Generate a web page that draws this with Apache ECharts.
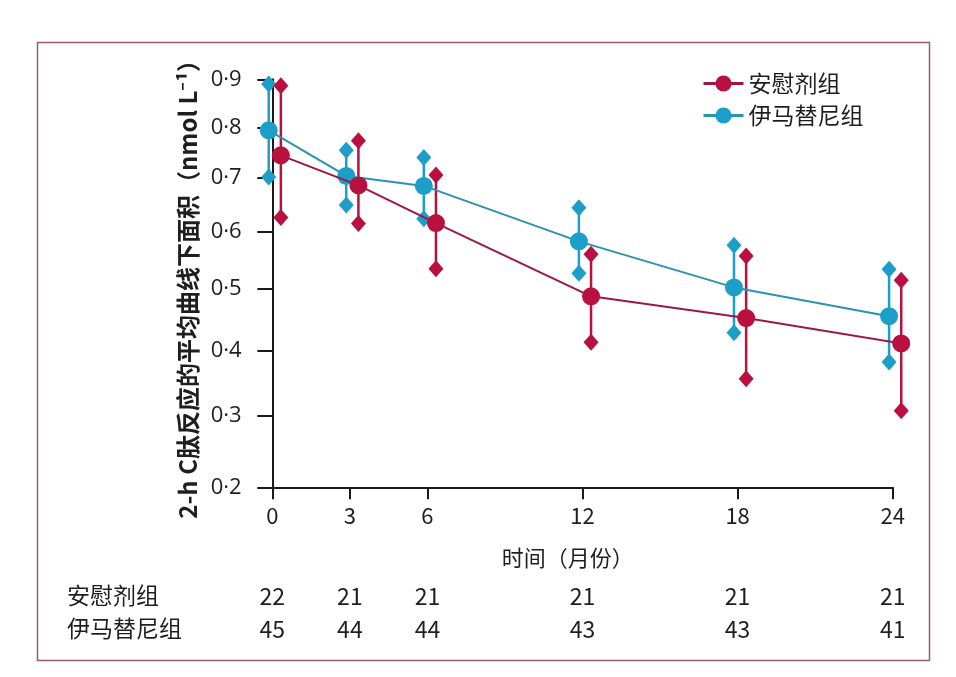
<!DOCTYPE html>
<html>
<head>
<meta charset="utf-8">
<script src="https://cdn.jsdelivr.net/npm/echarts@6/dist/echarts.min.js"></script>
<style>
html,body{margin:0;padding:0;background:#fff;}
#chart{width:956px;height:677px;}
</style>
</head>
<body>
<div id="chart"></div>
<script>
// ---- data ----
var times = [0, 3, 6, 12, 18, 24];
var yTicks = [0.2, 0.3, 0.4, 0.5, 0.6, 0.7, 0.8, 0.9];
var placeboMean  = [0.744, 0.686, 0.616, 0.488, 0.452, 0.411];
var placeboUpper = [0.886, 0.773, 0.706, 0.560, 0.557, 0.515];
var placeboLower = [0.626, 0.615, 0.535, 0.413, 0.356, 0.308];
var imatinibMean  = [0.794, 0.704, 0.685, 0.583, 0.503, 0.455];
var imatinibUpper = [0.890, 0.754, 0.740, 0.644, 0.576, 0.534];
var imatinibLower = [0.702, 0.649, 0.624, 0.527, 0.428, 0.382];
var placeboN  = [22, 21, 21, 21, 21, 21];
var imatinibN = [45, 44, 44, 43, 43, 41];
var placeboName = '安慰剂组';
var imatinibName = '伊马替尼组';

// ---- style ----
var RED = '#b8103f', RED_LINE = '#9c1841';
var BLUE = '#1c9ec8', BLUE_LINE = '#2a93ae';
var TXT = '#1e1e1e';
var CJK = '"Noto Sans CJK SC", "Noto Sans", sans-serif';
var redShift = 0.33, blueShift = -0.14;

// y scale: axis spacing follows ln(1 + v)
function f(v){ return Math.log(1 + v); }
function finv(u){ return Math.exp(u) - 1; }

function meanData(mean, shift){
  return times.map(function(t, i){ return [t + shift, f(mean[i])]; });
}
function barData(lo, hi, shift){
  return times.map(function(t, i){ return [t + shift, f(lo[i]), f(hi[i])]; });
}
function makeRenderer(color){
  return function(params, api){
    var x = api.value(0);
    var p1 = api.coord([x, api.value(1)]);
    var p2 = api.coord([x, api.value(2)]);
    var hw = 7.5, hh = 8.5;
    function diamond(p){
      return {type:'polygon', shape:{points:[[p[0],p[1]-hh],[p[0]+hw,p[1]],[p[0],p[1]+hh],[p[0]-hw,p[1]]]},
              style:{fill:color}};
    }
    return {type:'group', children:[
      {type:'line', shape:{x1:p1[0], y1:p1[1], x2:p2[0], y2:p2[1]}, style:{stroke:color, lineWidth:2.5}},
      diamond(p1), diamond(p2)
    ]};
  };
}

var chart = echarts.init(document.getElementById('chart'), null, {renderer:'canvas'});

var xMin = -0.45, xMax = 24;
function hiddenCountAxis(offset, counts){
  return {
    type:'value', min:xMin, max:xMax, position:'bottom', offset:offset,
    axisLine:{show:false}, axisTick:{show:false}, splitLine:{show:false},
    axisLabel:{show:true, customValues:times, margin:0, color:TXT, fontSize:23, fontFamily:CJK,
      formatter:function(v){ var i = times.indexOf(v); return i >= 0 ? String(counts[i]) : ''; }}
  };
}

var option = {
  backgroundColor:'#fff',
  animation:false,
  grid:{left:260.7, right:63.3, top:79.3, bottom:189.7, outerBoundsMode:'none'},
  legend:{
    orient:'vertical', left:697, top:67, itemWidth:40, itemHeight:20, itemGap:9,
    lineStyle:{width:3},
    textStyle:{color:TXT, fontSize:23, fontFamily:CJK},
    data:[placeboName, imatinibName]
  },
  xAxis:[
    {
      type:'value', min:xMin, max:xMax,
      name:'时间（月份）', nameLocation:'middle', nameGap:59,
      nameTextStyle:{color:TXT, fontSize:22, fontFamily:CJK, padding:[0,18,0,0]},
      axisLine:{show:true, onZero:false, lineStyle:{color:'#1a1a1a', width:2}},
      axisTick:{show:true, customValues:times, length:12, lineStyle:{color:'#1a1a1a', width:2}},
      axisLabel:{show:true, customValues:times, margin:17, color:TXT, fontSize:22, fontFamily:CJK},
      splitLine:{show:false}
    },
    hiddenCountAxis(97, placeboN),
    hiddenCountAxis(130, imatinibN)
  ],
  yAxis:{
    type:'value', min:f(yTicks[0]), max:f(yTicks[yTicks.length-1]),
    name:'2-h C肽反应的平均曲线下面积（nmol L⁻¹）', nameLocation:'middle', nameGap:60,
    nameTextStyle:{color:TXT, fontSize:24, fontWeight:'bold', fontFamily:CJK},
    axisLine:{show:true, lineStyle:{color:'#1a1a1a', width:2}},
    axisTick:{show:true, customValues:yTicks.map(f), length:15, lineStyle:{color:'#1a1a1a', width:2}},
    axisLabel:{show:true, customValues:yTicks.map(f), margin:19, color:TXT, fontSize:22, fontFamily:'"Open Sans", sans-serif',
      formatter:function(u){ return finv(u).toFixed(1).replace('.', '·'); }},
    splitLine:{show:false}
  },
  graphic:[
    {type:'rect', shape:{x:37.5, y:42.5, width:892, height:618}, style:{fill:'none', stroke:'#9a5a73', lineWidth:1.5}, silent:true},
    {type:'text', left:67, top:584, style:{text:placeboName, fill:TXT, font:'23px ' + CJK}},
    {type:'text', left:67, top:617, style:{text:imatinibName, fill:TXT, font:'23px ' + CJK}}
  ],
  series:[
    {type:'custom', name:imatinibName+'误差', renderItem:makeRenderer(BLUE), data:barData(imatinibLower, imatinibUpper, blueShift), z:2, silent:true, clip:false, encode:{x:0, y:[1,2]}},
    {type:'custom', name:placeboName+'误差', renderItem:makeRenderer(RED), data:barData(placeboLower, placeboUpper, redShift), z:2, silent:true, clip:false, encode:{x:0, y:[1,2]}},
    {type:'line', name:imatinibName, data:meanData(imatinibMean, blueShift), symbol:'circle', symbolSize:18, clip:false,
     itemStyle:{color:BLUE}, lineStyle:{color:BLUE_LINE, width:2}, z:3},
    {type:'line', name:placeboName, data:meanData(placeboMean, redShift), symbol:'circle', symbolSize:18, clip:false,
     itemStyle:{color:RED}, lineStyle:{color:RED_LINE, width:2}, z:4}
  ]
};
chart.setOption(option);
</script>
</body>
</html>
